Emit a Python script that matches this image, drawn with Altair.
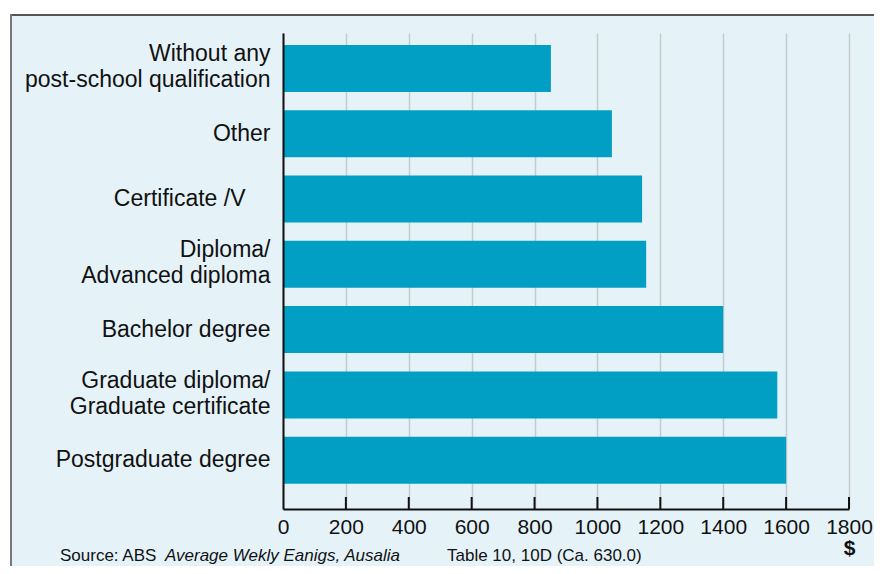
import altair as alt
import pandas as pd

categories = [
    "Without any\npost-school qualification",
    "Other",
    "Certificate /V",
    "Diploma/\nAdvanced diploma",
    "Bachelor degree",
    "Graduate diploma/\nGraduate certificate",
    "Postgraduate degree",
]
values = [852, 1046, 1142, 1155, 1400, 1572, 1600]
tick_values = [0, 200, 400, 600, 800, 1000, 1200, 1400, 1600, 1800]
inner_ticks = [200, 400, 600, 800, 1000, 1200, 1400, 1600, 1800]

W, H = 566, 476
BG = "#e5f3f9"
BAR = "#019fc3"
FONT = "Liberation Sans"

df = pd.DataFrame({"cat": categories, "val": values})
ticks_df = pd.DataFrame({"t": inner_ticks})
one = pd.DataFrame({"k": [0]})

bars = alt.Chart(df).mark_bar(color=BAR).encode(
    x=alt.X(
        "val:Q",
        scale=alt.Scale(domain=[0, 1800], nice=False),
        axis=alt.Axis(
            values=tick_values,
            format="d",
            title="$",
            titleX=W,
            titleY=39,
            titleAlign="center",
            titleBaseline="middle",
            titleFontWeight="bold",
            titleFontSize=21,
            titleFont=FONT,
            titleColor="#111",
            labelFontSize=21,
            labelFont=FONT,
            labelColor="#111",
            labelPadding=7,
            labelFlush=False,
            ticks=False,
            domainColor="#111",
            domainWidth=2,
            grid=True,
            gridColor="#c5cacd",
            gridWidth=1.5,
            zindex=0,
        ),
    ),
    y=alt.Y(
        "cat:N",
        sort=categories,
        scale=alt.Scale(paddingInner=0.28, paddingOuter=0.285, align=0.32),
        axis=alt.Axis(
            title=None,
            labelExpr="split(datum.label, '\\n')",
            labelFontSize=23,
            labelFont=FONT,
            labelColor="#111",
            labelLineHeight=26,
            labelPadding={
                "condition": {"test": "datum.label == 'Certificate /V'", "value": 38},
                "value": 13,
            },
            labelLimit=400,
            labelOffset={
                "condition": {"test": "indexof(datum.label, '\\n') >= 0", "value": -14},
                "value": 0,
            },
            ticks=False,
            domainColor="#111",
            domainWidth=2,
            grid=False,
            zindex=1,
        ),
    ),
)

tick_rules = alt.Chart(ticks_df).mark_rule(color="#111", strokeWidth=2).encode(
    x=alt.X("t:Q", scale=alt.Scale(domain=[0, 1800], nice=False)),
    y=alt.value(H - 12),
    y2=alt.value(H),
)

# white margin strips outside the framed panel
top_strip = alt.Chart(one).mark_rect(color="white").encode(
    x=alt.value(-280), x2=alt.value(700), y=alt.value(-30), y2=alt.value(-18)
)
left_strip = alt.Chart(one).mark_rect(color="white").encode(
    x=alt.value(-280), x2=alt.value(-272), y=alt.value(-30), y2=alt.value(600)
)
top_border = alt.Chart(one).mark_rule(color="#555", strokeWidth=2).encode(
    x=alt.value(-273), x2=alt.value(700), y=alt.value(-18)
)
left_border = alt.Chart(one).mark_rule(color="#777", strokeWidth=2).encode(
    x=alt.value(-272), y=alt.value(-19), y2=alt.value(600)
)

SRC_Y = 523
src1 = alt.Chart(one).mark_text(
    text="Source: ABS", align="left", baseline="middle", fontSize=17, font=FONT,
    fontWeight="normal", color="#111"
).encode(x=alt.value(-223), y=alt.value(SRC_Y))
src2 = alt.Chart(one).mark_text(
    text="Average Wekly Eanigs, Ausalia", align="left", baseline="middle", fontSize=17,
    font=FONT, fontStyle="italic", fontWeight="normal", color="#111"
).encode(x=alt.value(-118), y=alt.value(SRC_Y))
src3 = alt.Chart(one).mark_text(
    text="Table 10, 10D (Ca. 630.0)", align="left", baseline="middle", fontSize=17,
    font=FONT, fontWeight="normal", color="#111"
).encode(x=alt.value(164), y=alt.value(SRC_Y))

chart = alt.layer(
    top_strip, left_strip, top_border, left_border, bars, tick_rules, src1, src2, src3
).properties(
    width=W,
    height=H,
    autosize=alt.AutoSizeParams(type="none"),
    padding={"left": 275, "top": 25, "right": 25, "bottom": 57},
).configure(
    background=BG
).configure_view(
    stroke=None
)

chart.save("out.html", embed_options={"renderer": "svg", "actions": False})
